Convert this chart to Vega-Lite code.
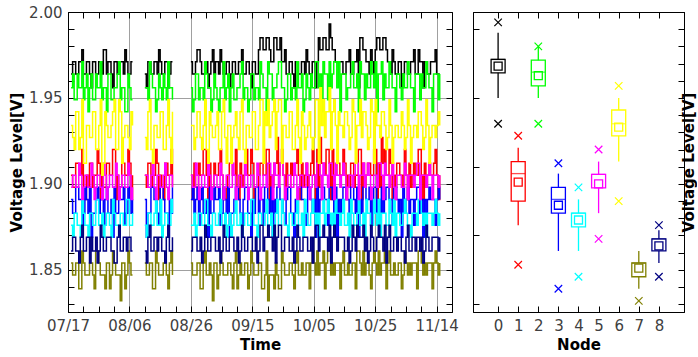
{
"$schema":"https://vega.github.io/schema/vega-lite/v6.json",
"padding":{"left":9,"top":4,"right":0,"bottom":1},
"spacing":13,
"config":{"font":"DejaVu Sans","view":{"stroke":"black","strokeWidth":1},
"axis":{"labelFont":"DejaVu Sans","labelFontSize":15,"labelColor":"#404040","titleFont":"DejaVu Sans","titleFontSize":15,"titleFontWeight":"bold","titleColor":"black","domainColor":"black","tickColor":"black","tickSize":-6,"labelPadding":12,"gridColor":"#a0a0a0","gridWidth":1}},
"resolve":{"scale":{"color":"independent"}},
"datasets":{
"ts":[
{"t":"2015/07/18","n0":1.964,"n1":1.905,"n2":1.956,"n3":1.891,"n4":1.876,"n5":1.898,"n6":1.934,"n7":1.854,"n8":1.861},
{"t":"2015/07/18 12:00","n0":1.971,"n1":1.898,"n2":1.964,"n3":1.883,"n4":1.869,"n5":1.905,"n6":1.927,"n7":1.847,"n8":1.869},
{"t":"2015/07/19","n0":1.971,"n1":1.898,"n2":1.949,"n3":1.883,"n4":1.883,"n5":1.905,"n6":1.920,"n7":1.847,"n8":1.869},
{"t":"2015/07/19 12:00","n0":1.964,"n1":1.912,"n2":1.949,"n3":1.898,"n4":1.883,"n5":1.898,"n6":1.942,"n7":1.854,"n8":1.861},
{"t":"2015/07/20","n0":1.964,"n1":1.912,"n2":1.964,"n3":1.898,"n4":1.876,"n5":1.898,"n6":1.942,"n7":1.854,"n8":1.861},
{"t":"2015/07/20 12:00","n0":1.971,"n1":1.905,"n2":1.956,"n3":1.891,"n4":1.876,"n5":1.912,"n6":1.920,"n7":1.839,"n8":1.854},
{"t":"2015/07/21","n0":1.971,"n1":1.905,"n2":1.956,"n3":1.891,"n4":1.869,"n5":1.905,"n6":1.927,"n7":1.839,"n8":1.869},
{"t":"2015/07/21 12:00","n0":1.978,"n1":1.920,"n2":1.971,"n3":1.876,"n4":1.891,"n5":1.891,"n6":1.949,"n7":1.861,"n8":1.876},
{"t":"2015/07/22","n0":1.964,"n1":1.891,"n2":1.949,"n3":1.883,"n4":1.883,"n5":1.898,"n6":1.912,"n7":1.854,"n8":1.861},
{"t":"2015/07/22 12:00","n0":1.964,"n1":1.891,"n2":1.956,"n3":1.898,"n4":1.876,"n5":1.905,"n6":1.912,"n7":1.847,"n8":1.861},
{"t":"2015/07/23","n0":1.971,"n1":1.905,"n2":1.964,"n3":1.891,"n4":1.876,"n5":1.905,"n6":1.934,"n7":1.847,"n8":1.869},
{"t":"2015/07/23 12:00","n0":1.971,"n1":1.898,"n2":1.942,"n3":1.883,"n4":1.869,"n5":1.898,"n6":1.934,"n7":1.847,"n8":1.869},
{"t":"2015/07/24","n0":1.964,"n1":1.912,"n2":1.956,"n3":1.898,"n4":1.883,"n5":1.898,"n6":1.927,"n7":1.854,"n8":1.854},
{"t":"2015/07/24 12:00","n0":1.956,"n1":1.912,"n2":1.964,"n3":1.869,"n4":1.883,"n5":1.912,"n6":1.927,"n7":1.854,"n8":1.869},
{"t":"2015/07/25","n0":1.971,"n1":1.898,"n2":1.949,"n3":1.883,"n4":1.876,"n5":1.905,"n6":1.942,"n7":1.847,"n8":1.861},
{"t":"2015/07/25 12:00","n0":1.971,"n1":1.905,"n2":1.949,"n3":1.883,"n4":1.876,"n5":1.891,"n6":1.942,"n7":1.839,"n8":1.861},
{"t":"2015/07/26","n0":1.964,"n1":1.905,"n2":1.964,"n3":1.891,"n4":1.891,"n5":1.898,"n6":1.920,"n7":1.861,"n8":1.869},
{"t":"2015/07/26 12:00","n0":1.964,"n1":1.920,"n2":1.956,"n3":1.898,"n4":1.891,"n5":1.905,"n6":1.920,"n7":1.861,"n8":1.854},
{"t":"2015/07/27","n0":1.971,"n1":1.912,"n2":1.956,"n3":1.883,"n4":1.876,"n5":1.905,"n6":1.934,"n7":1.854,"n8":1.861},
{"t":"2015/07/27 12:00","n0":1.971,"n1":1.891,"n2":1.971,"n3":1.891,"n4":1.876,"n5":1.898,"n6":1.949,"n7":1.847,"n8":1.876},
{"t":"2015/07/28","n0":1.964,"n1":1.905,"n2":1.949,"n3":1.898,"n4":1.883,"n5":1.891,"n6":1.905,"n7":1.847,"n8":1.869},
{"t":"2015/07/28 12:00","n0":1.978,"n1":1.898,"n2":1.956,"n3":1.876,"n4":1.869,"n5":1.912,"n6":1.912,"n7":1.847,"n8":1.861},
{"t":"2015/07/29","n0":1.978,"n1":1.898,"n2":1.956,"n3":1.891,"n4":1.876,"n5":1.905,"n6":1.942,"n7":1.839,"n8":1.861},
{"t":"2015/07/29 12:00","n0":1.964,"n1":1.912,"n2":1.942,"n3":1.898,"n4":1.883,"n5":1.891,"n6":1.934,"n7":1.854,"n8":1.869},
{"t":"2015/07/30","n0":1.971,"n1":1.912,"n2":1.964,"n3":1.883,"n4":1.883,"n5":1.898,"n6":1.927,"n7":1.854,"n8":1.869},
{"t":"2015/07/30 12:00","n0":1.971,"n1":1.905,"n2":1.964,"n3":1.883,"n4":1.876,"n5":1.905,"n6":1.927,"n7":1.839,"n8":1.869},
{"t":"2015/07/31","n0":1.964,"n1":1.905,"n2":1.949,"n3":1.891,"n4":1.869,"n5":1.905,"n6":1.934,"n7":1.847,"n8":1.861},
{"t":"2015/07/31 12:00","n0":1.956,"n1":1.920,"n2":1.949,"n3":1.869,"n4":1.891,"n5":1.898,"n6":1.942,"n7":1.861,"n8":1.861},
{"t":"2015/08/01","n0":1.971,"n1":1.920,"n2":1.956,"n3":1.898,"n4":1.883,"n5":1.898,"n6":1.949,"n7":1.854,"n8":1.854},
{"t":"2015/08/01 12:00","n0":1.971,"n1":1.891,"n2":1.956,"n3":1.883,"n4":1.876,"n5":1.912,"n6":1.920,"n7":1.847,"n8":1.854},
{"t":"2015/08/02","n0":1.964,"n1":1.905,"n2":1.964,"n3":1.883,"n4":1.876,"n5":1.905,"n6":1.920,"n7":1.847,"n8":1.869},
{"t":"2015/08/02 12:00","n0":1.964,"n1":1.898,"n2":1.971,"n3":1.898,"n4":1.869,"n5":1.891,"n6":1.949,"n7":1.847,"n8":1.876},
{"t":"2015/08/03","n0":1.971,"n1":1.898,"n2":1.949,"n3":1.891,"n4":1.883,"n5":1.898,"n6":1.942,"n7":1.832,"n8":1.861},
{"t":"2015/08/03 12:00","n0":1.971,"n1":1.912,"n2":1.956,"n3":1.891,"n4":1.883,"n5":1.905,"n6":1.912,"n7":1.854,"n8":1.861},
{"t":"2015/08/04","n0":1.964,"n1":1.912,"n2":1.956,"n3":1.898,"n4":1.876,"n5":1.905,"n6":1.927,"n7":1.854,"n8":1.869},
{"t":"2015/08/04 12:00","n0":1.978,"n1":1.905,"n2":1.942,"n3":1.876,"n4":1.876,"n5":1.898,"n6":1.934,"n7":1.839,"n8":1.869},
{"t":"2015/08/05","n0":1.971,"n1":1.905,"n2":1.942,"n3":1.883,"n4":1.891,"n5":1.898,"n6":1.934,"n7":1.847,"n8":1.861},
{"t":"2015/08/05 12:00","n0":1.964,"n1":1.920,"n2":1.964,"n3":1.898,"n4":1.891,"n5":1.912,"n6":1.927,"n7":1.861,"n8":1.869},
{"t":"2015/08/06","n0":1.964,"n1":1.912,"n2":1.956,"n3":1.891,"n4":1.876,"n5":1.905,"n6":1.920,"n7":1.854,"n8":1.869},
{"t":"2015/08/06 12:00","n0":1.971,"n1":1.891,"n2":1.949,"n3":1.883,"n4":1.876,"n5":1.891,"n6":1.942,"n7":1.847,"n8":1.861},
{"t":"2015/08/07","n0":1.971,"n1":1.905,"n2":1.949,"n3":1.891,"n4":1.883,"n5":1.898,"n6":1.934,"n7":1.847,"n8":1.861},
{"t":"2015/08/08","n0":null,"n1":null,"n2":null,"n3":null,"n4":null,"n5":null,"n6":null,"n7":null,"n8":null},
{"t":"2015/08/11","n0":1.964,"n1":1.905,"n2":1.956,"n3":1.891,"n4":1.876,"n5":1.905,"n6":1.927,"n7":1.854,"n8":1.861},
{"t":"2015/08/11 12:00","n0":1.956,"n1":1.898,"n2":1.956,"n3":1.869,"n4":1.869,"n5":1.905,"n6":1.920,"n7":1.847,"n8":1.854},
{"t":"2015/08/12","n0":1.971,"n1":1.912,"n2":1.949,"n3":1.883,"n4":1.883,"n5":1.898,"n6":1.942,"n7":1.847,"n8":1.869},
{"t":"2015/08/12 12:00","n0":1.971,"n1":1.912,"n2":1.971,"n3":1.883,"n4":1.883,"n5":1.898,"n6":1.949,"n7":1.854,"n8":1.876},
{"t":"2015/08/13","n0":1.964,"n1":1.898,"n2":1.964,"n3":1.898,"n4":1.876,"n5":1.905,"n6":1.920,"n7":1.854,"n8":1.861},
{"t":"2015/08/13 12:00","n0":1.964,"n1":1.905,"n2":1.956,"n3":1.898,"n4":1.876,"n5":1.912,"n6":1.912,"n7":1.839,"n8":1.861},
{"t":"2015/08/14","n0":1.971,"n1":1.905,"n2":1.956,"n3":1.891,"n4":1.883,"n5":1.898,"n6":1.934,"n7":1.839,"n8":1.869},
{"t":"2015/08/14 12:00","n0":1.971,"n1":1.920,"n2":1.942,"n3":1.891,"n4":1.891,"n5":1.891,"n6":1.934,"n7":1.861,"n8":1.869},
{"t":"2015/08/15","n0":1.964,"n1":1.912,"n2":1.949,"n3":1.883,"n4":1.876,"n5":1.905,"n6":1.927,"n7":1.854,"n8":1.861},
{"t":"2015/08/15 12:00","n0":1.978,"n1":1.891,"n2":1.964,"n3":1.876,"n4":1.876,"n5":1.905,"n6":1.927,"n7":1.847,"n8":1.869},
{"t":"2015/08/16","n0":1.971,"n1":1.905,"n2":1.956,"n3":1.898,"n4":1.891,"n5":1.898,"n6":1.942,"n7":1.847,"n8":1.869},
{"t":"2015/08/16 12:00","n0":1.964,"n1":1.898,"n2":1.949,"n3":1.898,"n4":1.869,"n5":1.898,"n6":1.942,"n7":1.847,"n8":1.861},
{"t":"2015/08/17","n0":1.964,"n1":1.891,"n2":1.964,"n3":1.891,"n4":1.876,"n5":1.905,"n6":1.920,"n7":1.854,"n8":1.861},
{"t":"2015/08/17 12:00","n0":1.971,"n1":1.912,"n2":1.956,"n3":1.883,"n4":1.883,"n5":1.912,"n6":1.920,"n7":1.854,"n8":1.854},
{"t":"2015/08/18","n0":1.971,"n1":1.912,"n2":1.949,"n3":1.883,"n4":1.883,"n5":1.898,"n6":1.934,"n7":1.847,"n8":1.869},
{"t":"2015/08/18 12:00","n0":1.956,"n1":1.905,"n2":1.971,"n3":1.869,"n4":1.876,"n5":1.891,"n6":1.949,"n7":1.839,"n8":1.876},
{"t":"2015/08/19","n0":1.964,"n1":1.905,"n2":1.956,"n3":1.891,"n4":1.876,"n5":1.905,"n6":1.927,"n7":1.854,"n8":1.861},
{"t":"2015/08/19 12:00","n0":1.971,"n1":1.920,"n2":1.956,"n3":1.883,"n4":1.891,"n5":1.905,"n6":1.912,"n7":1.861,"n8":1.861},
{"t":"2015/08/20","n0":1.971,"n1":1.898,"n2":1.949,"n3":1.898,"n4":1.883,"n5":1.898,"n6":1.942,"n7":1.847,"n8":1.869},
{"t":"2015/08/22","n0":null,"n1":null,"n2":null,"n3":null,"n4":null,"n5":null,"n6":null,"n7":null,"n8":null},
{"t":"2015/08/26","n0":1.971,"n1":1.905,"n2":1.956,"n3":1.891,"n4":1.876,"n5":1.905,"n6":1.934,"n7":1.854,"n8":1.861},
{"t":"2015/08/26 12:00","n0":1.964,"n1":1.891,"n2":1.942,"n3":1.898,"n4":1.876,"n5":1.898,"n6":1.934,"n7":1.847,"n8":1.869},
{"t":"2015/08/27","n0":1.964,"n1":1.912,"n2":1.949,"n3":1.883,"n4":1.883,"n5":1.898,"n6":1.920,"n7":1.847,"n8":1.869},
{"t":"2015/08/27 12:00","n0":1.971,"n1":1.898,"n2":1.964,"n3":1.891,"n4":1.869,"n5":1.912,"n6":1.927,"n7":1.847,"n8":1.869},
{"t":"2015/08/28","n0":1.978,"n1":1.898,"n2":1.964,"n3":1.898,"n4":1.876,"n5":1.905,"n6":1.942,"n7":1.854,"n8":1.861},
{"t":"2015/08/28 12:00","n0":1.978,"n1":1.912,"n2":1.949,"n3":1.876,"n4":1.883,"n5":1.891,"n6":1.942,"n7":1.854,"n8":1.861},
{"t":"2015/08/29","n0":1.971,"n1":1.905,"n2":1.956,"n3":1.891,"n4":1.883,"n5":1.898,"n6":1.927,"n7":1.839,"n8":1.869},
{"t":"2015/08/29 12:00","n0":1.964,"n1":1.905,"n2":1.956,"n3":1.898,"n4":1.876,"n5":1.905,"n6":1.920,"n7":1.839,"n8":1.854},
{"t":"2015/08/30","n0":1.964,"n1":1.920,"n2":1.949,"n3":1.883,"n4":1.876,"n5":1.905,"n6":1.934,"n7":1.854,"n8":1.861},
{"t":"2015/08/30 12:00","n0":1.971,"n1":1.920,"n2":1.971,"n3":1.883,"n4":1.891,"n5":1.898,"n6":1.949,"n7":1.861,"n8":1.876},
{"t":"2015/08/31","n0":1.971,"n1":1.905,"n2":1.964,"n3":1.891,"n4":1.891,"n5":1.898,"n6":1.920,"n7":1.847,"n8":1.869},
{"t":"2015/08/31 12:00","n0":1.956,"n1":1.891,"n2":1.956,"n3":1.869,"n4":1.876,"n5":1.912,"n6":1.912,"n7":1.847,"n8":1.861},
{"t":"2015/09/01","n0":1.964,"n1":1.912,"n2":1.956,"n3":1.898,"n4":1.876,"n5":1.905,"n6":1.942,"n7":1.854,"n8":1.861},
{"t":"2015/09/01 12:00","n0":1.971,"n1":1.898,"n2":1.942,"n3":1.883,"n4":1.869,"n5":1.891,"n6":1.934,"n7":1.847,"n8":1.869},
{"t":"2015/09/02","n0":1.978,"n1":1.898,"n2":1.949,"n3":1.883,"n4":1.883,"n5":1.898,"n6":1.927,"n7":1.832,"n8":1.869},
{"t":"2015/09/02 12:00","n0":1.964,"n1":1.912,"n2":1.964,"n3":1.898,"n4":1.883,"n5":1.905,"n6":1.927,"n7":1.854,"n8":1.869},
{"t":"2015/09/03","n0":1.971,"n1":1.905,"n2":1.956,"n3":1.891,"n4":1.876,"n5":1.905,"n6":1.934,"n7":1.854,"n8":1.861},
{"t":"2015/09/03 12:00","n0":1.971,"n1":1.905,"n2":1.949,"n3":1.891,"n4":1.876,"n5":1.898,"n6":1.942,"n7":1.839,"n8":1.861},
{"t":"2015/09/04","n0":1.964,"n1":1.912,"n2":1.942,"n3":1.898,"n4":1.883,"n5":1.898,"n6":1.920,"n7":1.847,"n8":1.869},
{"t":"2015/09/04 12:00","n0":1.978,"n1":1.920,"n2":1.956,"n3":1.876,"n4":1.891,"n5":1.912,"n6":1.920,"n7":1.861,"n8":1.854},
{"t":"2015/09/05","n0":1.971,"n1":1.905,"n2":1.956,"n3":1.883,"n4":1.876,"n5":1.905,"n6":1.942,"n7":1.854,"n8":1.861},
{"t":"2015/09/05 12:00","n0":1.964,"n1":1.891,"n2":1.971,"n3":1.898,"n4":1.876,"n5":1.891,"n6":1.949,"n7":1.847,"n8":1.876},
{"t":"2015/09/06","n0":1.964,"n1":1.891,"n2":1.949,"n3":1.891,"n4":1.883,"n5":1.898,"n6":1.927,"n7":1.847,"n8":1.869},
{"t":"2015/09/06 12:00","n0":1.971,"n1":1.898,"n2":1.956,"n3":1.883,"n4":1.869,"n5":1.905,"n6":1.912,"n7":1.847,"n8":1.861},
{"t":"2015/09/07","n0":1.971,"n1":1.905,"n2":1.964,"n3":1.898,"n4":1.876,"n5":1.905,"n6":1.934,"n7":1.854,"n8":1.861},
{"t":"2015/09/07 12:00","n0":1.956,"n1":1.912,"n2":1.942,"n3":1.869,"n4":1.883,"n5":1.898,"n6":1.934,"n7":1.854,"n8":1.869},
{"t":"2015/09/08","n0":1.964,"n1":1.912,"n2":1.956,"n3":1.883,"n4":1.869,"n5":1.898,"n6":1.912,"n7":1.847,"n8":1.869},
{"t":"2015/09/08 12:00","n0":1.971,"n1":1.905,"n2":1.964,"n3":1.883,"n4":1.876,"n5":1.912,"n6":1.927,"n7":1.839,"n8":1.869},
{"t":"2015/09/09","n0":1.971,"n1":1.905,"n2":1.949,"n3":1.891,"n4":1.883,"n5":1.905,"n6":1.934,"n7":1.854,"n8":1.861},
{"t":"2015/09/09 12:00","n0":1.964,"n1":1.920,"n2":1.949,"n3":1.898,"n4":1.891,"n5":1.891,"n6":1.942,"n7":1.861,"n8":1.861},
{"t":"2015/09/10","n0":1.964,"n1":1.898,"n2":1.956,"n3":1.898,"n4":1.876,"n5":1.898,"n6":1.927,"n7":1.839,"n8":1.869},
{"t":"2015/09/10 12:00","n0":1.971,"n1":1.891,"n2":1.956,"n3":1.891,"n4":1.876,"n5":1.905,"n6":1.920,"n7":1.847,"n8":1.854},
{"t":"2015/09/11","n0":1.971,"n1":1.912,"n2":1.964,"n3":1.883,"n4":1.883,"n5":1.905,"n6":1.942,"n7":1.854,"n8":1.861},
{"t":"2015/09/11 12:00","n0":1.978,"n1":1.898,"n2":1.971,"n3":1.876,"n4":1.869,"n5":1.898,"n6":1.949,"n7":1.847,"n8":1.876},
{"t":"2015/09/12","n0":1.964,"n1":1.905,"n2":1.949,"n3":1.891,"n4":1.876,"n5":1.898,"n6":1.920,"n7":1.847,"n8":1.869},
{"t":"2015/09/12 12:00","n0":1.964,"n1":1.912,"n2":1.956,"n3":1.898,"n4":1.883,"n5":1.912,"n6":1.912,"n7":1.854,"n8":1.861},
{"t":"2015/09/13","n0":1.971,"n1":1.920,"n2":1.956,"n3":1.898,"n4":1.883,"n5":1.905,"n6":1.934,"n7":1.854,"n8":1.861},
{"t":"2015/09/13 12:00","n0":1.971,"n1":1.905,"n2":1.942,"n3":1.883,"n4":1.876,"n5":1.891,"n6":1.934,"n7":1.839,"n8":1.869},
{"t":"2015/09/14","n0":1.964,"n1":1.905,"n2":1.949,"n3":1.883,"n4":1.876,"n5":1.898,"n6":1.927,"n7":1.847,"n8":1.869},
{"t":"2015/09/14 12:00","n0":1.956,"n1":1.920,"n2":1.964,"n3":1.869,"n4":1.891,"n5":1.905,"n6":1.927,"n7":1.861,"n8":1.869},
{"t":"2015/09/15","n0":1.971,"n1":1.912,"n2":1.964,"n3":1.891,"n4":1.891,"n5":1.905,"n6":1.942,"n7":1.854,"n8":1.861},
{"t":"2015/09/15 12:00","n0":1.971,"n1":1.891,"n2":1.949,"n3":1.883,"n4":1.876,"n5":1.898,"n6":1.942,"n7":1.847,"n8":1.861},
{"t":"2015/09/16","n0":1.964,"n1":1.898,"n2":1.956,"n3":1.898,"n4":1.876,"n5":1.898,"n6":1.920,"n7":1.847,"n8":1.869},
{"t":"2015/09/16 12:00","n0":1.964,"n1":1.898,"n2":1.956,"n3":1.898,"n4":1.869,"n5":1.912,"n6":1.920,"n7":1.847,"n8":1.854},
{"t":"2015/09/17","n0":1.978,"n1":1.905,"n2":1.949,"n3":1.883,"n4":1.883,"n5":1.905,"n6":1.934,"n7":1.854,"n8":1.861},
{"t":"2015/09/17 12:00","n0":1.985,"n1":1.912,"n2":1.971,"n3":1.891,"n4":1.883,"n5":1.891,"n6":1.949,"n7":1.854,"n8":1.876},
{"t":"2015/09/18","n0":1.985,"n1":1.912,"n2":1.964,"n3":1.891,"n4":1.876,"n5":1.898,"n6":1.949,"n7":1.839,"n8":1.876},
{"t":"2015/09/18 12:00","n0":1.978,"n1":1.905,"n2":1.956,"n3":1.876,"n4":1.876,"n5":1.905,"n6":1.912,"n7":1.839,"n8":1.861},
{"t":"2015/09/19","n0":1.978,"n1":1.905,"n2":1.956,"n3":1.898,"n4":1.883,"n5":1.905,"n6":1.942,"n7":1.847,"n8":1.869},
{"t":"2015/09/19 12:00","n0":1.985,"n1":1.920,"n2":1.942,"n3":1.898,"n4":1.891,"n5":1.898,"n6":1.934,"n7":1.861,"n8":1.869},
{"t":"2015/09/20","n0":1.985,"n1":1.920,"n2":1.971,"n3":1.891,"n4":1.876,"n5":1.912,"n6":1.949,"n7":1.832,"n8":1.876},
{"t":"2015/09/20 12:00","n0":1.978,"n1":1.891,"n2":1.964,"n3":1.883,"n4":1.876,"n5":1.912,"n6":1.927,"n7":1.847,"n8":1.869},
{"t":"2015/09/21","n0":1.971,"n1":1.905,"n2":1.964,"n3":1.898,"n4":1.883,"n5":1.905,"n6":1.934,"n7":1.847,"n8":1.869},
{"t":"2015/09/21 12:00","n0":1.971,"n1":1.898,"n2":1.949,"n3":1.869,"n4":1.869,"n5":1.891,"n6":1.942,"n7":1.847,"n8":1.861},
{"t":"2015/09/22","n0":1.985,"n1":1.912,"n2":1.956,"n3":1.891,"n4":1.876,"n5":1.912,"n6":1.949,"n7":1.839,"n8":1.876},
{"t":"2015/09/22 12:00","n0":1.985,"n1":1.912,"n2":1.956,"n3":1.883,"n4":1.883,"n5":1.905,"n6":1.920,"n7":1.854,"n8":1.854},
{"t":"2015/09/23","n0":1.978,"n1":1.927,"n2":1.964,"n3":1.898,"n4":1.891,"n5":1.905,"n6":1.942,"n7":1.847,"n8":1.869},
{"t":"2015/09/23 12:00","n0":1.978,"n1":1.905,"n2":1.971,"n3":1.898,"n4":1.876,"n5":1.898,"n6":1.949,"n7":1.839,"n8":1.876},
{"t":"2015/09/24","n0":1.985,"n1":1.912,"n2":1.971,"n3":1.891,"n4":1.876,"n5":1.912,"n6":1.949,"n7":1.839,"n8":1.876},
{"t":"2015/09/24 12:00","n0":1.971,"n1":1.920,"n2":1.956,"n3":1.891,"n4":1.891,"n5":1.912,"n6":1.912,"n7":1.861,"n8":1.861},
{"t":"2015/09/25","n0":1.971,"n1":1.905,"n2":1.956,"n3":1.883,"n4":1.883,"n5":1.905,"n6":1.934,"n7":1.854,"n8":1.861},
{"t":"2015/09/25 12:00","n0":1.978,"n1":1.891,"n2":1.942,"n3":1.876,"n4":1.876,"n5":1.891,"n6":1.934,"n7":1.847,"n8":1.869},
{"t":"2015/09/26","n0":1.964,"n1":1.912,"n2":1.949,"n3":1.891,"n4":1.876,"n5":1.898,"n6":1.927,"n7":1.847,"n8":1.869},
{"t":"2015/09/26 12:00","n0":1.964,"n1":1.898,"n2":1.964,"n3":1.898,"n4":1.869,"n5":1.905,"n6":1.927,"n7":1.847,"n8":1.869},
{"t":"2015/09/27","n0":1.971,"n1":1.898,"n2":1.964,"n3":1.898,"n4":1.883,"n5":1.905,"n6":1.942,"n7":1.854,"n8":1.861},
{"t":"2015/09/27 12:00","n0":1.971,"n1":1.912,"n2":1.949,"n3":1.883,"n4":1.883,"n5":1.898,"n6":1.942,"n7":1.854,"n8":1.861},
{"t":"2015/09/28","n0":1.964,"n1":1.905,"n2":1.956,"n3":1.883,"n4":1.876,"n5":1.898,"n6":1.920,"n7":1.847,"n8":1.869},
{"t":"2015/09/28 12:00","n0":1.956,"n1":1.905,"n2":1.956,"n3":1.869,"n4":1.876,"n5":1.912,"n6":1.920,"n7":1.839,"n8":1.854},
{"t":"2015/09/29","n0":1.971,"n1":1.912,"n2":1.949,"n3":1.891,"n4":1.883,"n5":1.905,"n6":1.934,"n7":1.854,"n8":1.861},
{"t":"2015/09/29 12:00","n0":1.971,"n1":1.920,"n2":1.971,"n3":1.883,"n4":1.891,"n5":1.891,"n6":1.949,"n7":1.861,"n8":1.876},
{"t":"2015/09/30","n0":1.964,"n1":1.905,"n2":1.956,"n3":1.898,"n4":1.876,"n5":1.898,"n6":1.927,"n7":1.847,"n8":1.869},
{"t":"2015/09/30 12:00","n0":1.964,"n1":1.891,"n2":1.956,"n3":1.898,"n4":1.876,"n5":1.905,"n6":1.912,"n7":1.847,"n8":1.861},
{"t":"2015/10/01","n0":1.971,"n1":1.912,"n2":1.964,"n3":1.891,"n4":1.883,"n5":1.905,"n6":1.942,"n7":1.854,"n8":1.861},
{"t":"2015/10/01 12:00","n0":1.971,"n1":1.898,"n2":1.942,"n3":1.891,"n4":1.869,"n5":1.898,"n6":1.934,"n7":1.847,"n8":1.869},
{"t":"2015/10/02","n0":1.964,"n1":1.905,"n2":1.949,"n3":1.883,"n4":1.891,"n5":1.898,"n6":1.920,"n7":1.847,"n8":1.869},
{"t":"2015/10/02 12:00","n0":1.978,"n1":1.912,"n2":1.964,"n3":1.876,"n4":1.883,"n5":1.912,"n6":1.927,"n7":1.854,"n8":1.869},
{"t":"2015/10/03","n0":1.971,"n1":1.898,"n2":1.956,"n3":1.898,"n4":1.876,"n5":1.905,"n6":1.934,"n7":1.854,"n8":1.861},
{"t":"2015/10/03 12:00","n0":1.964,"n1":1.905,"n2":1.949,"n3":1.898,"n4":1.876,"n5":1.891,"n6":1.942,"n7":1.839,"n8":1.861},
{"t":"2015/10/04","n0":1.964,"n1":1.912,"n2":1.964,"n3":1.891,"n4":1.883,"n5":1.898,"n6":1.927,"n7":1.854,"n8":1.869},
{"t":"2015/10/04 12:00","n0":1.971,"n1":1.920,"n2":1.956,"n3":1.883,"n4":1.891,"n5":1.905,"n6":1.920,"n7":1.861,"n8":1.854},
{"t":"2015/10/05","n0":1.971,"n1":1.905,"n2":1.956,"n3":1.891,"n4":1.883,"n5":1.905,"n6":1.927,"n7":1.854,"n8":1.869},
{"t":"2015/10/05 12:00","n0":1.956,"n1":1.891,"n2":1.971,"n3":1.869,"n4":1.876,"n5":1.898,"n6":1.949,"n7":1.847,"n8":1.876},
{"t":"2015/10/06","n0":1.971,"n1":1.920,"n2":1.971,"n3":1.898,"n4":1.883,"n5":1.912,"n6":1.949,"n7":1.861,"n8":1.876},
{"t":"2015/10/06 12:00","n0":1.985,"n1":1.898,"n2":1.956,"n3":1.883,"n4":1.869,"n5":1.912,"n6":1.912,"n7":1.847,"n8":1.861},
{"t":"2015/10/07","n0":1.978,"n1":1.927,"n2":1.964,"n3":1.891,"n4":1.883,"n5":1.905,"n6":1.956,"n7":1.854,"n8":1.869},
{"t":"2015/10/07 12:00","n0":1.978,"n1":1.912,"n2":1.942,"n3":1.898,"n4":1.883,"n5":1.891,"n6":1.934,"n7":1.854,"n8":1.869},
{"t":"2015/10/08","n0":1.985,"n1":1.912,"n2":1.971,"n3":1.898,"n4":1.891,"n5":1.912,"n6":1.949,"n7":1.861,"n8":1.876},
{"t":"2015/10/08 12:00","n0":1.985,"n1":1.905,"n2":1.964,"n3":1.891,"n4":1.876,"n5":1.905,"n6":1.927,"n7":1.839,"n8":1.869},
{"t":"2015/10/09","n0":1.978,"n1":1.920,"n2":1.964,"n3":1.891,"n4":1.883,"n5":1.905,"n6":1.942,"n7":1.854,"n8":1.869},
{"t":"2015/10/09 12:00","n0":1.978,"n1":1.920,"n2":1.949,"n3":1.876,"n4":1.891,"n5":1.898,"n6":1.942,"n7":1.861,"n8":1.861},
{"t":"2015/10/10","n0":1.993,"n1":1.912,"n2":1.971,"n3":1.898,"n4":1.883,"n5":1.912,"n6":1.956,"n7":1.861,"n8":1.876},
{"t":"2015/10/10 12:00","n0":1.985,"n1":1.891,"n2":1.956,"n3":1.898,"n4":1.876,"n5":1.912,"n6":1.920,"n7":1.847,"n8":1.854},
{"t":"2015/10/11","n0":1.978,"n1":1.920,"n2":1.964,"n3":1.891,"n4":1.883,"n5":1.905,"n6":1.942,"n7":1.854,"n8":1.869},
{"t":"2015/10/11 12:00","n0":1.978,"n1":1.898,"n2":1.971,"n3":1.883,"n4":1.869,"n5":1.891,"n6":1.949,"n7":1.847,"n8":1.876},
{"t":"2015/10/12","n0":1.971,"n1":1.905,"n2":1.971,"n3":1.898,"n4":1.891,"n5":1.912,"n6":1.934,"n7":1.854,"n8":1.869},
{"t":"2015/10/12 12:00","n0":1.971,"n1":1.912,"n2":1.956,"n3":1.869,"n4":1.883,"n5":1.905,"n6":1.912,"n7":1.854,"n8":1.861},
{"t":"2015/10/13","n0":1.971,"n1":1.912,"n2":1.971,"n3":1.891,"n4":1.883,"n5":1.905,"n6":1.942,"n7":1.854,"n8":1.869},
{"t":"2015/10/13 12:00","n0":1.971,"n1":1.905,"n2":1.942,"n3":1.883,"n4":1.876,"n5":1.898,"n6":1.934,"n7":1.839,"n8":1.869},
{"t":"2015/10/14","n0":1.971,"n1":1.905,"n2":1.964,"n3":1.891,"n4":1.883,"n5":1.905,"n6":1.934,"n7":1.854,"n8":1.869},
{"t":"2015/10/14 12:00","n0":1.964,"n1":1.920,"n2":1.964,"n3":1.898,"n4":1.891,"n5":1.912,"n6":1.927,"n7":1.861,"n8":1.869},
{"t":"2015/10/15","n0":1.964,"n1":1.912,"n2":1.964,"n3":1.898,"n4":1.876,"n5":1.905,"n6":1.942,"n7":1.847,"n8":1.861},
{"t":"2015/10/15 12:00","n0":1.971,"n1":1.891,"n2":1.949,"n3":1.891,"n4":1.876,"n5":1.891,"n6":1.942,"n7":1.847,"n8":1.861},
{"t":"2015/10/16","n0":1.971,"n1":1.905,"n2":1.956,"n3":1.891,"n4":1.883,"n5":1.898,"n6":1.934,"n7":1.854,"n8":1.869},
{"t":"2015/10/16 12:00","n0":1.978,"n1":1.898,"n2":1.956,"n3":1.876,"n4":1.869,"n5":1.905,"n6":1.920,"n7":1.847,"n8":1.854},
{"t":"2015/10/17","n0":1.964,"n1":1.912,"n2":1.964,"n3":1.898,"n4":1.891,"n5":1.905,"n6":1.927,"n7":1.847,"n8":1.861},
{"t":"2015/10/17 12:00","n0":1.964,"n1":1.912,"n2":1.971,"n3":1.898,"n4":1.883,"n5":1.898,"n6":1.949,"n7":1.854,"n8":1.876},
{"t":"2015/10/18","n0":1.971,"n1":1.898,"n2":1.956,"n3":1.891,"n4":1.876,"n5":1.905,"n6":1.942,"n7":1.854,"n8":1.869},
{"t":"2015/10/18 12:00","n0":1.971,"n1":1.905,"n2":1.956,"n3":1.883,"n4":1.876,"n5":1.912,"n6":1.912,"n7":1.839,"n8":1.861},
{"t":"2015/10/19","n0":1.978,"n1":1.905,"n2":1.964,"n3":1.898,"n4":1.883,"n5":1.912,"n6":1.934,"n7":1.861,"n8":1.876},
{"t":"2015/10/19 12:00","n0":1.956,"n1":1.920,"n2":1.942,"n3":1.869,"n4":1.891,"n5":1.891,"n6":1.934,"n7":1.861,"n8":1.869},
{"t":"2015/10/20","n0":1.985,"n1":1.920,"n2":1.971,"n3":1.891,"n4":1.876,"n5":1.905,"n6":1.949,"n7":1.854,"n8":1.869},
{"t":"2015/10/20 12:00","n0":1.985,"n1":1.891,"n2":1.964,"n3":1.883,"n4":1.876,"n5":1.905,"n6":1.927,"n7":1.847,"n8":1.869},
{"t":"2015/10/21","n0":1.978,"n1":1.912,"n2":1.964,"n3":1.898,"n4":1.883,"n5":1.912,"n6":1.942,"n7":1.861,"n8":1.876},
{"t":"2015/10/21 12:00","n0":1.978,"n1":1.898,"n2":1.949,"n3":1.898,"n4":1.869,"n5":1.898,"n6":1.942,"n7":1.847,"n8":1.861},
{"t":"2015/10/22","n0":1.971,"n1":1.905,"n2":1.964,"n3":1.891,"n4":1.891,"n5":1.905,"n6":1.934,"n7":1.854,"n8":1.869},
{"t":"2015/10/22 12:00","n0":1.971,"n1":1.912,"n2":1.956,"n3":1.891,"n4":1.883,"n5":1.912,"n6":1.920,"n7":1.854,"n8":1.854},
{"t":"2015/10/23","n0":1.964,"n1":1.912,"n2":1.956,"n3":1.898,"n4":1.883,"n5":1.905,"n6":1.927,"n7":1.847,"n8":1.861},
{"t":"2015/10/23 12:00","n0":1.978,"n1":1.905,"n2":1.971,"n3":1.876,"n4":1.876,"n5":1.891,"n6":1.949,"n7":1.839,"n8":1.876},
{"t":"2015/10/24","n0":1.971,"n1":1.905,"n2":1.964,"n3":1.891,"n4":1.876,"n5":1.898,"n6":1.942,"n7":1.854,"n8":1.869},
{"t":"2015/10/24 12:00","n0":1.964,"n1":1.920,"n2":1.956,"n3":1.898,"n4":1.891,"n5":1.905,"n6":1.912,"n7":1.861,"n8":1.861},
{"t":"2015/10/25","n0":1.978,"n1":1.920,"n2":1.971,"n3":1.898,"n4":1.883,"n5":1.905,"n6":1.949,"n7":1.854,"n8":1.861},
{"t":"2015/10/25 12:00","n0":1.985,"n1":1.891,"n2":1.942,"n3":1.883,"n4":1.876,"n5":1.898,"n6":1.934,"n7":1.847,"n8":1.869},
{"t":"2015/10/26","n0":1.985,"n1":1.912,"n2":1.964,"n3":1.891,"n4":1.891,"n5":1.912,"n6":1.934,"n7":1.861,"n8":1.876},
{"t":"2015/10/26 12:00","n0":1.978,"n1":1.898,"n2":1.964,"n3":1.869,"n4":1.869,"n5":1.912,"n6":1.927,"n7":1.847,"n8":1.869},
{"t":"2015/10/27","n0":1.978,"n1":1.927,"n2":1.971,"n3":1.898,"n4":1.883,"n5":1.905,"n6":1.942,"n7":1.854,"n8":1.869},
{"t":"2015/10/27 12:00","n0":1.985,"n1":1.912,"n2":1.949,"n3":1.883,"n4":1.883,"n5":1.891,"n6":1.942,"n7":1.854,"n8":1.861},
{"t":"2015/10/28","n0":1.985,"n1":1.920,"n2":1.964,"n3":1.891,"n4":1.883,"n5":1.912,"n6":1.934,"n7":1.861,"n8":1.876},
{"t":"2015/10/28 12:00","n0":1.978,"n1":1.905,"n2":1.956,"n3":1.898,"n4":1.876,"n5":1.905,"n6":1.920,"n7":1.839,"n8":1.854},
{"t":"2015/10/29","n0":1.971,"n1":1.905,"n2":1.956,"n3":1.898,"n4":1.876,"n5":1.905,"n6":1.927,"n7":1.854,"n8":1.869},
{"t":"2015/10/29 12:00","n0":1.971,"n1":1.920,"n2":1.971,"n3":1.891,"n4":1.891,"n5":1.898,"n6":1.949,"n7":1.861,"n8":1.876},
{"t":"2015/10/30","n0":1.964,"n1":1.912,"n2":1.964,"n3":1.891,"n4":1.883,"n5":1.905,"n6":1.934,"n7":1.847,"n8":1.861},
{"t":"2015/10/30 12:00","n0":1.978,"n1":1.891,"n2":1.956,"n3":1.876,"n4":1.876,"n5":1.912,"n6":1.912,"n7":1.847,"n8":1.861},
{"t":"2015/10/31","n0":1.971,"n1":1.905,"n2":1.956,"n3":1.898,"n4":1.891,"n5":1.898,"n6":1.927,"n7":1.854,"n8":1.869},
{"t":"2015/10/31 12:00","n0":1.964,"n1":1.898,"n2":1.942,"n3":1.898,"n4":1.869,"n5":1.891,"n6":1.934,"n7":1.847,"n8":1.869},
{"t":"2015/11/01","n0":1.964,"n1":1.912,"n2":1.964,"n3":1.891,"n4":1.883,"n5":1.905,"n6":1.934,"n7":1.847,"n8":1.861},
{"t":"2015/11/01 12:00","n0":1.971,"n1":1.912,"n2":1.964,"n3":1.883,"n4":1.883,"n5":1.905,"n6":1.927,"n7":1.854,"n8":1.869},
{"t":"2015/11/02","n0":1.971,"n1":1.905,"n2":1.956,"n3":1.891,"n4":1.876,"n5":1.905,"n6":1.927,"n7":1.854,"n8":1.869},
{"t":"2015/11/02 12:00","n0":1.956,"n1":1.905,"n2":1.949,"n3":1.869,"n4":1.876,"n5":1.898,"n6":1.942,"n7":1.839,"n8":1.861},
{"t":"2015/11/03","n0":1.964,"n1":1.898,"n2":1.964,"n3":1.898,"n4":1.883,"n5":1.898,"n6":1.934,"n7":1.847,"n8":1.861},
{"t":"2015/11/03 12:00","n0":1.971,"n1":1.920,"n2":1.956,"n3":1.883,"n4":1.891,"n5":1.912,"n6":1.920,"n7":1.861,"n8":1.854},
{"t":"2015/11/04","n0":1.971,"n1":1.905,"n2":1.956,"n3":1.891,"n4":1.883,"n5":1.905,"n6":1.927,"n7":1.854,"n8":1.869},
{"t":"2015/11/04 12:00","n0":1.964,"n1":1.891,"n2":1.971,"n3":1.898,"n4":1.876,"n5":1.891,"n6":1.949,"n7":1.847,"n8":1.876},
{"t":"2015/11/05","n0":1.964,"n1":1.912,"n2":1.964,"n3":1.883,"n4":1.876,"n5":1.905,"n6":1.934,"n7":1.854,"n8":1.861},
{"t":"2015/11/05 12:00","n0":1.971,"n1":1.898,"n2":1.956,"n3":1.891,"n4":1.869,"n5":1.905,"n6":1.912,"n7":1.847,"n8":1.861},
{"t":"2015/11/06","n0":1.971,"n1":1.905,"n2":1.956,"n3":1.891,"n4":1.883,"n5":1.905,"n6":1.927,"n7":1.854,"n8":1.869},
{"t":"2015/11/06 12:00","n0":1.978,"n1":1.912,"n2":1.942,"n3":1.876,"n4":1.883,"n5":1.898,"n6":1.934,"n7":1.854,"n8":1.869},
{"t":"2015/11/07","n0":1.964,"n1":1.905,"n2":1.964,"n3":1.891,"n4":1.883,"n5":1.905,"n6":1.934,"n7":1.854,"n8":1.861},
{"t":"2015/11/07 12:00","n0":1.964,"n1":1.905,"n2":1.964,"n3":1.898,"n4":1.876,"n5":1.912,"n6":1.927,"n7":1.839,"n8":1.869},
{"t":"2015/11/08","n0":1.978,"n1":1.920,"n2":1.964,"n3":1.898,"n4":1.891,"n5":1.912,"n6":1.942,"n7":1.861,"n8":1.869},
{"t":"2015/11/08 12:00","n0":1.971,"n1":1.920,"n2":1.949,"n3":1.883,"n4":1.891,"n5":1.891,"n6":1.942,"n7":1.861,"n8":1.861},
{"t":"2015/11/09","n0":1.971,"n1":1.905,"n2":1.964,"n3":1.891,"n4":1.883,"n5":1.905,"n6":1.934,"n7":1.854,"n8":1.869},
{"t":"2015/11/09 12:00","n0":1.956,"n1":1.891,"n2":1.956,"n3":1.869,"n4":1.876,"n5":1.905,"n6":1.920,"n7":1.847,"n8":1.854},
{"t":"2015/11/10","n0":1.971,"n1":1.912,"n2":1.956,"n3":1.891,"n4":1.883,"n5":1.905,"n6":1.927,"n7":1.854,"n8":1.861},
{"t":"2015/11/10 12:00","n0":1.971,"n1":1.898,"n2":1.971,"n3":1.883,"n4":1.869,"n5":1.898,"n6":1.949,"n7":1.847,"n8":1.876},
{"t":"2015/11/11","n0":1.964,"n1":1.905,"n2":1.964,"n3":1.891,"n4":1.883,"n5":1.905,"n6":1.934,"n7":1.854,"n8":1.869},
{"t":"2015/11/11 12:00","n0":1.964,"n1":1.912,"n2":1.956,"n3":1.898,"n4":1.883,"n5":1.912,"n6":1.912,"n7":1.854,"n8":1.861},
{"t":"2015/11/12","n0":1.971,"n1":1.905,"n2":1.956,"n3":1.891,"n4":1.883,"n5":1.905,"n6":1.927,"n7":1.854,"n8":1.861},
{"t":"2015/11/12 12:00","n0":1.971,"n1":1.905,"n2":1.942,"n3":1.891,"n4":1.876,"n5":1.891,"n6":1.934,"n7":1.839,"n8":1.869},
{"t":"2015/11/13","n0":1.971,"n1":1.912,"n2":1.964,"n3":1.891,"n4":1.883,"n5":1.905,"n6":1.934,"n7":1.854,"n8":1.869},
{"t":"2015/11/13 12:00","n0":1.978,"n1":1.920,"n2":1.964,"n3":1.876,"n4":1.891,"n5":1.905,"n6":1.927,"n7":1.861,"n8":1.869},
{"t":"2015/11/14","n0":1.964,"n1":1.905,"n2":1.964,"n3":1.891,"n4":1.883,"n5":1.905,"n6":1.934,"n7":1.854,"n8":1.869},
{"t":"2015/11/14 12:00","n0":1.964,"n1":1.891,"n2":1.949,"n3":1.898,"n4":1.876,"n5":1.898,"n6":1.942,"n7":1.847,"n8":1.861},
{"t":"2015/11/15","n0":1.964,"n1":1.905,"n2":1.964,"n3":1.891,"n4":1.883,"n5":1.905,"n6":1.934,"n7":1.854,"n8":1.869}
],
"box":[
{"node":0,"lo":1.950,"q1":1.9646,"med":1.9724,"q3":1.9724,"hi":1.988,"mean":1.9685,"xmin":1.935,"xmax":1.994},
{"node":1,"lo":1.876,"q1":1.890,"med":1.906,"q3":1.913,"hi":1.921,"mean":1.901,"xmin":1.853,"xmax":1.928},
{"node":2,"lo":1.950,"q1":1.957,"med":1.965,"q3":1.972,"hi":1.980,"mean":1.963,"xmin":1.935,"xmax":1.980},
{"node":3,"lo":1.861,"q1":1.883,"med":1.891,"q3":1.898,"hi":1.906,"mean":1.8876,"xmin":1.839,"xmax":1.912},
{"node":4,"lo":1.861,"q1":1.875,"med":1.883,"q3":1.883,"hi":1.891,"mean":1.879,"xmin":1.846,"xmax":1.898},
{"node":5,"lo":1.883,"q1":1.8977,"med":1.9055,"q3":1.9055,"hi":1.913,"mean":1.900,"xmin":1.868,"xmax":1.920},
{"node":6,"lo":1.913,"q1":1.928,"med":1.935,"q3":1.943,"hi":1.950,"mean":1.933,"xmin":1.890,"xmax":1.957},
{"node":7,"lo":1.839,"q1":1.846,"med":1.854,"q3":1.854,"hi":1.861,"mean":1.851,"xmin":1.832,"xmax":null},
{"node":8,"lo":1.854,"q1":1.861,"med":1.868,"q3":1.868,"hi":1.873,"mean":1.864,"xmin":1.846,"xmax":1.876}
]
},
"hconcat":[
{
"width":384,"height":300,
"data":{"name":"ts"},
"transform":[{"fold":["n0","n1","n2","n3","n4","n5","n6","n7","n8"],"as":["node","v"]}],
"layer":[
{"mark":{"type":"line","interpolate":"step-after","strokeWidth":1.5,"invalid":"break-paths-filter-domains"},
"encoding":{
"x":{"field":"t","type":"temporal","scale":{"domain":[{"year":2015,"month":7,"date":17},{"year":2015,"month":11,"date":19}]},
"axis":{"title":"Time","orient":"bottom","values":[{"year":2015,"month":7,"date":17},{"year":2015,"month":7,"date":22},{"year":2015,"month":7,"date":27},{"year":2015,"month":8,"date":1},{"year":2015,"month":8,"date":6},{"year":2015,"month":8,"date":11},{"year":2015,"month":8,"date":16},{"year":2015,"month":8,"date":21},{"year":2015,"month":8,"date":26},{"year":2015,"month":8,"date":31},{"year":2015,"month":9,"date":5},{"year":2015,"month":9,"date":10},{"year":2015,"month":9,"date":15},{"year":2015,"month":9,"date":20},{"year":2015,"month":9,"date":25},{"year":2015,"month":9,"date":30},{"year":2015,"month":10,"date":5},{"year":2015,"month":10,"date":10},{"year":2015,"month":10,"date":15},{"year":2015,"month":10,"date":20},{"year":2015,"month":10,"date":25},{"year":2015,"month":10,"date":30},{"year":2015,"month":11,"date":4},{"year":2015,"month":11,"date":9},{"year":2015,"month":11,"date":14}],
"labelExpr":"round((datum.value - datetime(2015,6,17))/86400000) % 20 == 0 ? timeFormat(datum.value, '%m/%d') : ''",
"grid":true,"gridOpacity":{"condition":{"test":"round((datum.value - datetime(2015,6,17))/86400000) % 20 == 0","value":1},"value":0},
"labelOverlap":false,"labelFlush":false}},
"y":{"field":"v","type":"quantitative","scale":{"domain":[1.8255,2.0],"nice":false,"zero":false},
"axis":{"title":"Voltage Level[V]","values":[1.83,1.84,1.85,1.86,1.87,1.88,1.89,1.9,1.91,1.92,1.93,1.94,1.95,1.96,1.97,1.98,1.99,2.0],
"labelExpr":"abs(datum.value*20 - round(datum.value*20)) < 0.001 ? format(datum.value, '.2f') : ''",
"grid":true,"gridOpacity":{"condition":{"test":"abs(datum.value*20 - round(datum.value*20)) < 0.001","value":1},"value":0},"labelOverlap":false,"labelFlush":false}},
"color":{"field":"node","type":"nominal","scale":{"domain":["n0","n1","n2","n3","n4","n5","n6","n7","n8"],"range":["#000000","#ff0000","#00ff00","#0000ff","#00ffff","#ff00ff","#ffff00","#808000","#000080"]},"legend":null}
}},
{"mark":{"type":"point","opacity":0},
"encoding":{
"x":{"field":"t","type":"temporal","axis":{"orient":"top","labels":false,"title":null,"grid":false,"values":[{"year":2015,"month":7,"date":17},{"year":2015,"month":7,"date":22},{"year":2015,"month":7,"date":27},{"year":2015,"month":8,"date":1},{"year":2015,"month":8,"date":6},{"year":2015,"month":8,"date":11},{"year":2015,"month":8,"date":16},{"year":2015,"month":8,"date":21},{"year":2015,"month":8,"date":26},{"year":2015,"month":8,"date":31},{"year":2015,"month":9,"date":5},{"year":2015,"month":9,"date":10},{"year":2015,"month":9,"date":15},{"year":2015,"month":9,"date":20},{"year":2015,"month":9,"date":25},{"year":2015,"month":9,"date":30},{"year":2015,"month":10,"date":5},{"year":2015,"month":10,"date":10},{"year":2015,"month":10,"date":15},{"year":2015,"month":10,"date":20},{"year":2015,"month":10,"date":25},{"year":2015,"month":10,"date":30},{"year":2015,"month":11,"date":4},{"year":2015,"month":11,"date":9},{"year":2015,"month":11,"date":14}]}},
"y":{"field":"v","type":"quantitative","axis":{"orient":"right","labels":false,"title":null,"grid":false,"values":[1.83,1.84,1.85,1.86,1.87,1.88,1.89,1.9,1.91,1.92,1.93,1.94,1.95,1.96,1.97,1.98,1.99,2.0]}}
}}
],
"resolve":{"axis":{"x":"independent","y":"independent"}}
},
{
"width":211,"height":300,
"data":{"name":"box"},
"layer":[
{
"encoding":{
"x":{"field":"node","type":"quantitative","scale":{"domain":[-1,9],"nice":false,"zero":false},"axis":{"title":"Node","orient":"bottom","values":[0,1,2,3,4,5,6,7,8],"grid":false,"labelFlush":false}},
"color":{"field":"node","type":"nominal","scale":{"domain":[0,1,2,3,4,5,6,7,8],"range":["#000000","#ff0000","#00ff00","#0000ff","#00ffff","#ff00ff","#ffff00","#808000","#000080"]},"legend":null}
},
"layer":[
{"mark":{"type":"rule","strokeWidth":1.3},"encoding":{"y":{"field":"lo","type":"quantitative","scale":{"domain":[1.8255,2.0],"nice":false,"zero":false},"axis":{"orient":"left","labels":false,"title":null,"grid":false,"values":[1.83,1.84,1.85,1.86,1.87,1.88,1.89,1.9,1.91,1.92,1.93,1.94,1.95,1.96,1.97,1.98,1.99,2.0]}},"y2":{"field":"q1"}}},
{"mark":{"type":"rule","strokeWidth":1.3},"encoding":{"y":{"field":"q3","type":"quantitative"},"y2":{"field":"hi"}}},
{"mark":{"type":"bar","orient":"vertical","size":14,"filled":false,"strokeWidth":1.3},"encoding":{"y":{"field":"q1","type":"quantitative"},"y2":{"field":"q3"}}},
{"mark":{"type":"tick","orient":"horizontal","size":14,"thickness":1.3},"encoding":{"y":{"field":"med","type":"quantitative"}}},
{"mark":{"type":"point","shape":"square","size":64,"filled":false,"strokeWidth":1.3,"opacity":1},"encoding":{"y":{"field":"mean","type":"quantitative"}}},
{"mark":{"type":"point","shape":"M-1,-1L1,1M-1,1L1,-1","size":56,"filled":false,"strokeWidth":1.2,"opacity":1},"encoding":{"y":{"field":"xmin","type":"quantitative"}}},
{"mark":{"type":"point","shape":"M-1,-1L1,1M-1,1L1,-1","size":56,"filled":false,"strokeWidth":1.2,"opacity":1},"encoding":{"y":{"field":"xmax","type":"quantitative"}}}
]
},
{"mark":{"type":"point","opacity":0},"encoding":{
"x":{"field":"node","type":"quantitative","axis":{"orient":"top","labels":false,"title":null,"grid":false,"values":[0,1,2,3,4,5,6,7,8]}},
"y":{"field":"mean","type":"quantitative","axis":{"orient":"right","labels":false,"title":"Voltage Level[V]","titleAngle":270,"titleBaseline":"top","titlePadding":-3,"grid":false,"values":[1.83,1.84,1.85,1.86,1.87,1.88,1.89,1.9,1.91,1.92,1.93,1.94,1.95,1.96,1.97,1.98,1.99,2.0]}}}}
],
"resolve":{"axis":{"x":"independent","y":"independent"}}
}
]
}
